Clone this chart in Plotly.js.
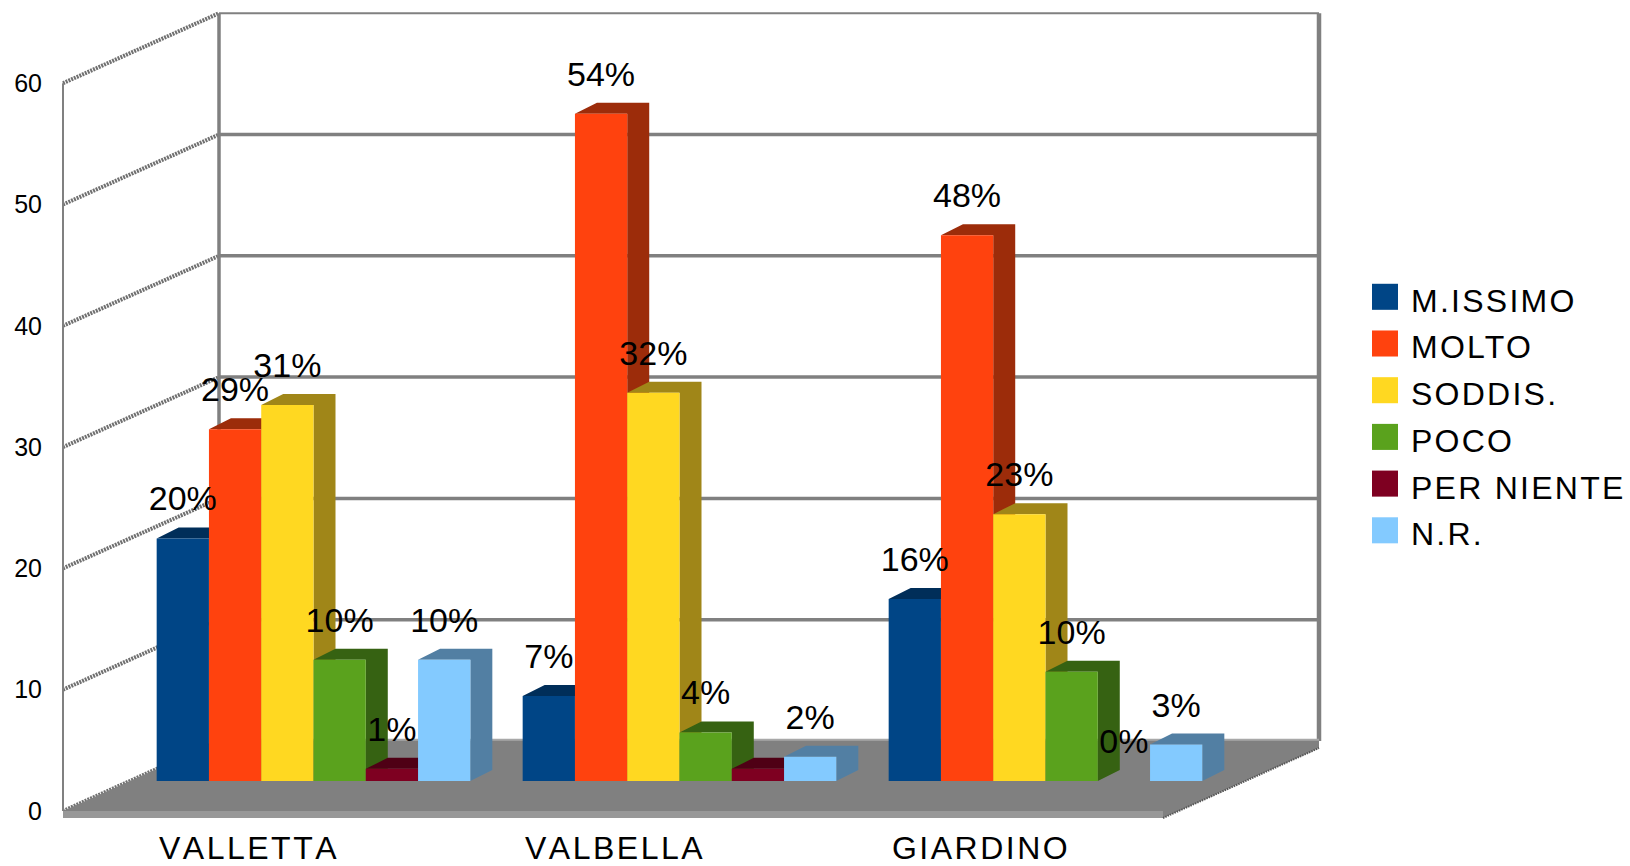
<!DOCTYPE html>
<html>
<head>
<meta charset="utf-8">
<script src="https://cdn.plot.ly/plotly-3.0.1.min.js"></script>
<style>
html,body{margin:0;padding:0;background:#fff;}
.xtick text{letter-spacing:2.5px;font-kerning:none;}
.legendtext{letter-spacing:2.25px;}
.legend .legendpoints path{transform:translate(30px,-2.5px) scale(2.17) !important;}
</style>
</head>
<body>
<div id="chart" style="width:1630px;height:866px;"></div>
<script>
// ---- data ----
var categories = ["VALLETTA", "VALBELLA", "GIARDINO"];
var yTicks = [0, 10, 20, 30, 40, 50, 60];
var seriesNames = ["M.ISSIMO", "MOLTO", "SODDIS.", "POCO", "PER NIENTE", "N.R."];
var mIssimo   = [20, 7, 15];
var molto     = [29, 55, 45];
var soddis    = [31, 32, 22];
var poco      = [10, 4, 9];
var perNiente = [1, 1, 0];
var nr        = [10, 2, 3];
var mIssimoLabels   = ["20%", "7%", "16%"];
var moltoLabels     = ["29%", "54%", "48%"];
var soddisLabels    = ["31%", "32%", "23%"];
var pocoLabels      = ["10%", "4%", "10%"];
var perNienteLabels = ["1%", "", "0%"];
var nrLabels        = ["10%", "2%", "3%"];

var seriesValues = [mIssimo, molto, soddis, poco, perNiente, nr];
var seriesLabels = [mIssimoLabels, moltoLabels, soddisLabels, pocoLabels, perNienteLabels, nrLabels];
var frontColors = ["#004586", "#ff420e", "#ffd821", "#5aa21d", "#7e0021", "#83caff"];
var depthColors = ["#002e59", "#9c2c0a", "#a08618", "#366212", "#4f0015", "#527fa3"];

// ---- projection constants: pixels per axis unit and oblique depth ----
var XU = 366, YU = 12.13;
var PL = 50, PR = 1325, PB = 826;
var FX0 = 249, FY0 = 811;        // front plane origin
var BX0 = 313.5, BY0 = 781;      // plane of the bars' front faces
var DX = (BX0 - FX0) / XU, DY = (FY0 - BY0) / YU;
var BACKX = 156 / XU, BACKY = 70 / YU;
var SIDEX = 22 / XU, SIDEY = 11 / YU;
var FLOORW = 1100 / XU, THICK = 7 / YU;
var XL = (63 - FX0) / XU;
var BARGAP = 0.143, W = (1 - BARGAP) / seriesNames.length;
var GREY = "#808080";

var traces = [];
function line(xs, ys, width, color, dash) {
  traces.push({type:"scatter", mode:"lines", x:xs, y:ys, showlegend:false, hoverinfo:"skip", xaxis:"x", yaxis:"y",
    line:{color:color, width:width, dash:dash || "solid"}});
}
function poly(xs, ys, color) {
  traces.push({type:"scatter", mode:"none", x:xs, y:ys, fill:"toself", fillcolor:color, showlegend:false, hoverinfo:"skip", xaxis:"x", yaxis:"y"});
}

// walls
var maxTick = yTicks[yTicks.length - 1];
yTicks.forEach(function (v) {
  line([XL, XL + BACKX], [v, v + BACKY], 4, "#707070", "2px,1px");
  line([XL + BACKX, XL + BACKX + FLOORW], [v + BACKY, v + BACKY], v === maxTick ? 2 : 3.5, GREY);
});
line([XL, XL], [0, maxTick], 2, GREY);
line([XL + BACKX, XL + BACKX], [0 + BACKY, maxTick + BACKY], 3.5, GREY);
line([XL + BACKX + FLOORW, XL + BACKX + FLOORW], [0 + BACKY, maxTick + BACKY], 4.5, GREY);

// floor
poly([XL, XL + BACKX, XL + BACKX + FLOORW, XL + BACKX + FLOORW, XL + FLOORW, XL],
     [0, BACKY, BACKY, BACKY - THICK, -THICK, -THICK], GREY);
poly([XL, XL + FLOORW, XL + FLOORW, XL], [0, 0, -THICK, -THICK], "#989898");
line([XL + BACKX, XL + BACKX + FLOORW], [BACKY + 0.1, BACKY + 0.1], 2, "#a8a8a8");
line([XL + FLOORW, XL + BACKX + FLOORW], [-THICK, BACKY - THICK], 2, "#555555", "1.5px,1px");

// side and top faces, painted left to right, behind every front face
seriesNames.forEach(function (name, j) {
  var xs = [], ys = [];
  categories.forEach(function (c, i) {
    var v = seriesValues[j][i];
    if (!v) return;
    var a = i + DX + (j - seriesNames.length / 2) * W, b = a + W, y0 = DY, y1 = v + DY;
    xs.push(b, b + SIDEX, b + SIDEX, a + SIDEX, a, b, b, null);
    ys.push(y0, y0 + SIDEY, y1 + SIDEY, y1 + SIDEY, y1, y1, y0, null);
  });
  poly(xs, ys, depthColors[j]);
});

// front faces, on the overlaying axes of the bar plane
seriesNames.forEach(function (name, j) {
  traces.push({type:"bar", name:name, x:[0, 1, 2], y:seriesValues[j], xaxis:"x2", yaxis:"y2",
    legendgroup:name, marker:{color:frontColors[j], line:{width:0}}, hoverinfo:"y"});
});

// value labels
var LABELUP = 36.5 / YU;
seriesNames.forEach(function (name, j) {
  traces.push({type:"scatter", mode:"text", xaxis:"x2", yaxis:"y2", showlegend:false, hoverinfo:"skip",
    x:categories.map(function (c, i) { return i + (j - seriesNames.length / 2 + 0.5) * W; }),
    y:seriesValues[j].map(function (v) { return v + LABELUP; }),
    text:seriesLabels[j], textposition:"middle center", cliponaxis:false,
    textfont:{family:"Liberation Sans", size:34, color:"#000"}});
});

var layout = {
  width:1630, height:866, showlegend:true,
  margin:{l:PL, r:1630 - PR, t:0, b:866 - PB, pad:0, autoexpand:false},
  paper_bgcolor:"#fff", plot_bgcolor:"#fff",
  font:{family:"Liberation Sans", color:"#000"},
  barmode:"group", bargap:BARGAP, bargroupgap:0,
  xaxis:{range:[(PL - FX0) / XU, (PR - FX0) / XU], tickmode:"array", tickvals:[0, 1, 2], ticktext:categories,
    showgrid:false, zeroline:false, showline:false, ticks:"", ticklabelstandoff:0,
    tickfont:{family:"Liberation Sans", size:32, color:"#000"}, fixedrange:true},
  yaxis:{range:[(FY0 - PB) / YU, FY0 / YU], tickmode:"array", tickvals:yTicks,
    showgrid:false, zeroline:false, showline:false, ticks:"", ticklabelstandoff:7,
    tickfont:{family:"Liberation Sans", size:25, color:"#000"}, fixedrange:true},
  xaxis2:{overlaying:"x", anchor:"y2", range:[(PL - BX0) / XU, (PR - BX0) / XU], visible:false, fixedrange:true},
  yaxis2:{overlaying:"y", anchor:"x2", range:[(BY0 - PB) / YU, BY0 / YU], visible:false, fixedrange:true},
  legend:{x:(1355 - PL) / (PR - PL), xanchor:"left", y:1 - (272 / PB), yanchor:"top", itemwidth:46,
    tracegroupgap:2.1, bgcolor:"rgba(0,0,0,0)", borderwidth:0, itemclick:false, itemdoubleclick:false,
    font:{family:"Liberation Sans", size:32, color:"#000"}}
};
Plotly.newPlot("chart", traces, layout, {displayModeBar:false, responsive:false});
</script>
</body>
</html>
